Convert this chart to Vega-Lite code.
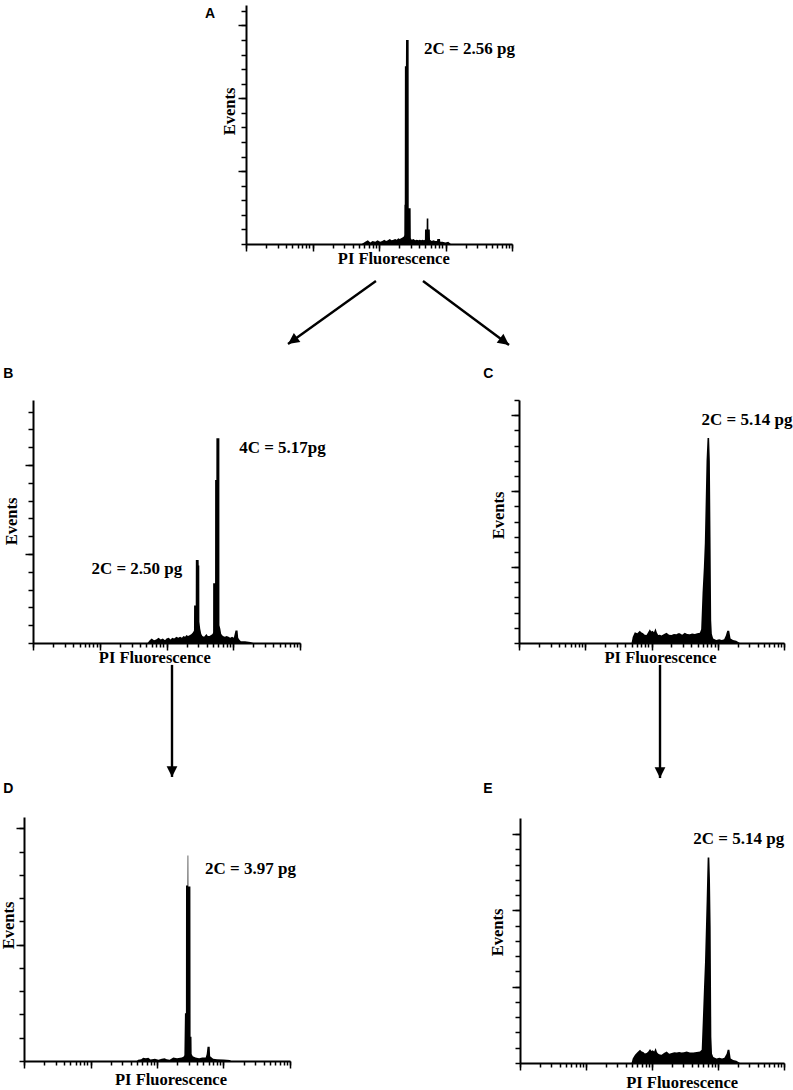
{
  "$schema": "https://vega.github.io/schema/vega-lite/v6.json",
  "width": 793,
  "height": 1090,
  "autosize": {"type": "none"},
  "padding": 0,
  "background": "white",
  "config": {
    "view": {"stroke": null},
    "axis": {"labels": false, "grid": false, "domainColor": "black", "domainWidth": 2, "tickColor": "black", "tickWidth": 1.5, "titleFont": "Liberation Serif", "titleFontSize": 16.5, "titleFontWeight": "bold", "titleColor": "black", "titleBaseline": "alphabetic"},
    "text": {"font": "Liberation Serif", "fontSize": 17, "fontWeight": "bold", "color": "black", "align": "left", "baseline": "alphabetic"}
  },
  "datasets": {
    "hA": [{"pi":55,"events":0},{"pi":62,"events":1.5},{"pi":68,"events":2.5},{"pi":74,"events":1},{"pi":80,"events":2},{"pi":88,"events":1.5},{"pi":95,"events":2.5},{"pi":104,"events":1.5},{"pi":112,"events":2},{"pi":120,"events":3},{"pi":128,"events":2},{"pi":136,"events":2.5},{"pi":145,"events":3.5},{"pi":155,"events":2.5},{"pi":165,"events":3},{"pi":175,"events":3.5},{"pi":185,"events":3},{"pi":195,"events":4},{"pi":205,"events":3.5},{"pi":215,"events":4},{"pi":225,"events":4.5},{"pi":235,"events":5},{"pi":240,"events":6},{"pi":241,"events":27},{"pi":244,"events":27},{"pi":245,"events":122},{"pi":254,"events":122},{"pi":255,"events":140},{"pi":279,"events":140},{"pi":280,"events":24.5},{"pi":299,"events":24.5},{"pi":301,"events":4},{"pi":310,"events":3},{"pi":330,"events":3.5},{"pi":350,"events":2.5},{"pi":370,"events":3},{"pi":390,"events":2.5},{"pi":410,"events":3},{"pi":430,"events":2.5},{"pi":450,"events":3},{"pi":475,"events":2.5},{"pi":490,"events":3},{"pi":492,"events":10},{"pi":520,"events":10},{"pi":522,"events":17.5},{"pi":552,"events":17.5},{"pi":553,"events":10},{"pi":580,"events":10},{"pi":585,"events":3},{"pi":620,"events":2},{"pi":660,"events":2.5},{"pi":700,"events":2},{"pi":745,"events":2},{"pi":753,"events":3.5},{"pi":826,"events":3.5},{"pi":835,"events":1.5},{"pi":900,"events":1.5},{"pi":1000,"events":1},{"pi":1100,"events":1.5},{"pi":1170,"events":0.5},{"pi":1200,"events":0}],
    "hB": [{"pi":52,"events":0},{"pi":56,"events":1.5},{"pi":60,"events":2.5},{"pi":65,"events":1.5},{"pi":70,"events":2},{"pi":76,"events":3},{"pi":82,"events":2},{"pi":88,"events":2.5},{"pi":95,"events":1.5},{"pi":100,"events":2.5},{"pi":108,"events":3},{"pi":115,"events":2},{"pi":122,"events":3},{"pi":130,"events":2.5},{"pi":141,"events":3.5},{"pi":150,"events":3},{"pi":160,"events":3.5},{"pi":170,"events":3},{"pi":180,"events":4},{"pi":190,"events":3.5},{"pi":199,"events":4.5},{"pi":210,"events":4},{"pi":225,"events":4.5},{"pi":237,"events":5},{"pi":250,"events":6},{"pi":258,"events":7},{"pi":259,"events":21},{"pi":274,"events":21},{"pi":275,"events":46.6},{"pi":303,"events":46.6},{"pi":304,"events":43.5},{"pi":310,"events":43.5},{"pi":311,"events":12},{"pi":320,"events":8},{"pi":332,"events":5},{"pi":345,"events":4},{"pi":365,"events":3.5},{"pi":385,"events":4.5},{"pi":398,"events":5},{"pi":415,"events":4},{"pi":440,"events":4},{"pi":465,"events":4.5},{"pi":490,"events":5},{"pi":499,"events":6},{"pi":500,"events":33.5},{"pi":534,"events":33.5},{"pi":535,"events":91.6},{"pi":558,"events":91.6},{"pi":559,"events":115},{"pi":620,"events":115},{"pi":621,"events":10},{"pi":640,"events":8},{"pi":660,"events":5},{"pi":700,"events":4},{"pi":750,"events":3.5},{"pi":794,"events":4},{"pi":850,"events":3.5},{"pi":900,"events":3},{"pi":960,"events":3.5},{"pi":1020,"events":3},{"pi":1057,"events":5.5},{"pi":1080,"events":7},{"pi":1160,"events":7},{"pi":1186,"events":3},{"pi":1230,"events":2},{"pi":1300,"events":1},{"pi":1500,"events":1},{"pi":1800,"events":0.5},{"pi":2000,"events":0}],
    "hC": [{"pi":50,"events":0},{"pi":52,"events":4},{"pi":56,"events":7},{"pi":61,"events":6.5},{"pi":66.6,"events":8},{"pi":70,"events":7},{"pi":74.7,"events":6.4},{"pi":79,"events":5.5},{"pi":84,"events":5.3},{"pi":89,"events":7},{"pi":94.3,"events":9},{"pi":99,"events":7.5},{"pi":103.5,"events":8},{"pi":109,"events":7},{"pi":115,"events":9.7},{"pi":120,"events":7},{"pi":126,"events":5.3},{"pi":134,"events":5.5},{"pi":141.6,"events":5},{"pi":155,"events":6},{"pi":168.5,"events":6.8},{"pi":184,"events":5.5},{"pi":200,"events":5.3},{"pi":218,"events":6},{"pi":239,"events":5.8},{"pi":252,"events":6.5},{"pi":267,"events":6.4},{"pi":290,"events":5.5},{"pi":318,"events":6.8},{"pi":345,"events":6},{"pi":379,"events":5.8},{"pi":410,"events":6.3},{"pi":451,"events":6},{"pi":490,"events":6.5},{"pi":537,"events":6.8},{"pi":562,"events":9},{"pi":589,"events":33},{"pi":617,"events":50},{"pi":638,"events":66},{"pi":677,"events":120},{"pi":701,"events":135},{"pi":741,"events":135},{"pi":760,"events":120},{"pi":778,"events":70},{"pi":796,"events":15},{"pi":815,"events":6},{"pi":853,"events":3},{"pi":950,"events":2},{"pi":1050,"events":2.5},{"pi":1150,"events":2},{"pi":1250,"events":2.5},{"pi":1325,"events":5},{"pi":1390,"events":8.1},{"pi":1490,"events":8.1},{"pi":1560,"events":3},{"pi":1700,"events":2},{"pi":1900,"events":1.5},{"pi":2157,"events":0}],
    "hD": [{"pi":50,"events":0},{"pi":52,"events":0.5},{"pi":58,"events":0.7},{"pi":62,"events":1.4},{"pi":68,"events":1.2},{"pi":74,"events":1.4},{"pi":80,"events":0.6},{"pi":93,"events":1},{"pi":105,"events":0.5},{"pi":118,"events":1},{"pi":130,"events":1.2},{"pi":140,"events":0.8},{"pi":155,"events":0.5},{"pi":176,"events":1.5},{"pi":200,"events":1.2},{"pi":235,"events":1.5},{"pi":250,"events":1.8},{"pi":258,"events":2.5},{"pi":263,"events":20.5},{"pi":272,"events":20.5},{"pi":273,"events":75.5},{"pi":288,"events":75.5},{"pi":289,"events":88.4},{"pi":295,"events":88.4},{"pi":296,"events":75},{"pi":318,"events":75},{"pi":320,"events":10.4},{"pi":330,"events":10.4},{"pi":332,"events":3},{"pi":345,"events":2},{"pi":380,"events":1.5},{"pi":430,"events":1.2},{"pi":480,"events":1.5},{"pi":540,"events":1.5},{"pi":559,"events":3},{"pi":575,"events":6.1},{"pi":620,"events":6.1},{"pi":630,"events":2},{"pi":700,"events":1},{"pi":800,"events":0.8},{"pi":1000,"events":0.6},{"pi":1250,"events":0.4},{"pi":1300,"events":0}],
    "hE": [{"pi":49,"events":0},{"pi":51,"events":3},{"pi":55.3,"events":5.4},{"pi":60,"events":7},{"pi":65.8,"events":8.7},{"pi":70,"events":7.5},{"pi":73.9,"events":7.2},{"pi":78,"events":6.2},{"pi":83,"events":6.5},{"pi":88,"events":7.5},{"pi":93.3,"events":9.2},{"pi":98,"events":7.8},{"pi":102,"events":8.3},{"pi":108,"events":7.5},{"pi":113.7,"events":9.8},{"pi":119,"events":7},{"pi":124.7,"events":6},{"pi":132,"events":5.5},{"pi":140,"events":5.4},{"pi":152,"events":6.5},{"pi":167,"events":7.5},{"pi":182,"events":6},{"pi":199,"events":6.5},{"pi":218,"events":7},{"pi":237,"events":6.8},{"pi":258,"events":7.2},{"pi":281,"events":6.8},{"pi":305,"events":7},{"pi":335,"events":7.5},{"pi":375,"events":6.8},{"pi":423,"events":6.8},{"pi":475,"events":7.2},{"pi":533,"events":7.5},{"pi":566,"events":8.7},{"pi":586,"events":26},{"pi":614,"events":50},{"pi":635,"events":66},{"pi":673,"events":107},{"pi":697,"events":134.6},{"pi":739,"events":134.6},{"pi":756,"events":120},{"pi":774,"events":89},{"pi":793,"events":17},{"pi":812,"events":6},{"pi":849,"events":4},{"pi":950,"events":3},{"pi":1050,"events":3.5},{"pi":1150,"events":3},{"pi":1250,"events":3.5},{"pi":1352,"events":6},{"pi":1400,"events":8.7},{"pi":1490,"events":8.7},{"pi":1556,"events":3},{"pi":1700,"events":2},{"pi":1900,"events":1.5},{"pi":2154,"events":0}],
    "lA": [{"pi":475,"events":130.6,"label":"2C = 2.56 pg"}],
    "lB": [{"pi":1225,"events":106.7,"label":"4C = 5.17pg"},{"pi":7.5,"events":38.8,"label":"2C = 2.50 pg"}],
    "lC": [{"pi":569,"events":143.8,"label":"2C = 5.14 pg"}],
    "lD": [{"pi":527,"events":80.3,"label":"2C = 3.97 pg"}],
    "lE": [{"pi":423,"events":143.3,"label":"2C = 5.14 pg"}],
    "arrows": [
      {"dir":"left","x1":47.41,"y1":25.78,"x2":36.32,"y2":31.56},
      {"dir":"right","x1":53.34,"y1":25.78,"x2":64.19,"y2":31.65},
      {"dir":"down","x1":21.69,"y1":61.0,"x2":21.69,"y2":71.28},
      {"dir":"down","x1":83.23,"y1":61.0,"x2":83.23,"y2":71.38}
    ],
    "letters": [
      {"letter":"A","x":25.85,"y":1.65},
      {"letter":"B","x":0.42,"y":34.68},
      {"letter":"C","x":60.95,"y":34.68},
      {"letter":"D","x":0.42,"y":72.78},
      {"letter":"E","x":60.95,"y":72.78}
    ]
  },
  "resolve": {"scale": {"x": "independent", "y": "independent"}, "axis": {"x": "independent", "y": "independent"}},
  "layer": [
    {"data": {"name": "hA"}, "mark": {"type": "area", "color": "black"},
     "encoding": {
       "x": {"field": "pi", "type": "quantitative", "scale": {"type": "log", "domain": [1, 10000], "range": [246, 512], "nice": false},
             "axis": {"orient": "bottom", "offset": -846, "title": "PI Fluorescence", "values": [1,2,3,4,5,6,7,8,9,10,20,30,40,50,60,70,80,90,100,200,300,400,500,600,700,800,900,1000,2000,3000,4000,5000,6000,7000,8000,9000,10000], "tickSize": 4, "titleX": 393.3, "titleY": 19.5}},
       "y": {"field": "events", "type": "quantitative", "scale": {"domain": [0, 164], "range": [244, 5], "nice": false},
             "axis": {"orient": "left", "offset": -246, "title": "Events", "values": [0,10,20,30,40,50,60,70,80,90,100,110,120,130,140,150,160], "tickSize": 5, "titleX": -12, "titleY": 111}}
     }},
    {"data": {"name": "lA"}, "mark": {"type": "text"},
     "encoding": {
       "x": {"field": "pi", "type": "quantitative", "scale": {"type": "log", "domain": [1, 10000], "range": [246, 512], "nice": false},
             "axis": {"orient": "bottom", "offset": -846, "title": null, "domain": false, "values": [1,10,100,1000,10000], "tickSize": 7}},
       "y": {"field": "events", "type": "quantitative", "scale": {"domain": [0, 164], "range": [244, 5], "nice": false},
             "axis": {"orient": "left", "offset": -246, "title": null, "domain": false, "values": [50,100,150], "tickSize": 8}},
       "text": {"field": "label"}
     }},
    {"data": {"name": "hB"}, "mark": {"type": "area", "color": "black"},
     "encoding": {
       "x": {"field": "pi", "type": "quantitative", "scale": {"type": "log", "domain": [1, 10000], "range": [33, 300], "nice": false},
             "axis": {"orient": "bottom", "offset": -447, "title": "PI Fluorescence", "values": [1,2,3,4,5,6,7,8,9,10,20,30,40,50,60,70,80,90,100,200,300,400,500,600,700,800,900,1000,2000,3000,4000,5000,6000,7000,8000,9000,10000], "tickSize": 4, "titleX": 154.3, "titleY": 19}},
       "y": {"field": "events", "type": "quantitative", "scale": {"domain": [0, 136.5], "range": [643, 400], "nice": false},
             "axis": {"orient": "left", "offset": -33, "title": "Events", "values": [0,10,20,30,40,50,60,70,80,90,100,110,120,130], "tickSize": 5, "titleX": -16.6, "titleY": 521}}
     }},
    {"data": {"name": "lB"}, "mark": {"type": "text"},
     "encoding": {
       "x": {"field": "pi", "type": "quantitative", "scale": {"type": "log", "domain": [1, 10000], "range": [33, 300], "nice": false},
             "axis": {"orient": "bottom", "offset": -447, "title": null, "domain": false, "values": [1,10,100,1000,10000], "tickSize": 7}},
       "y": {"field": "events", "type": "quantitative", "scale": {"domain": [0, 136.5], "range": [643, 400], "nice": false},
             "axis": {"orient": "left", "offset": -33, "title": null, "domain": false, "values": [50,100], "tickSize": 8}},
       "text": {"field": "label"}
     }},
    {"data": {"name": "hC"}, "mark": {"type": "area", "color": "black"},
     "encoding": {
       "x": {"field": "pi", "type": "quantitative", "scale": {"type": "log", "domain": [1, 10000], "range": [519, 784], "nice": false},
             "axis": {"orient": "bottom", "offset": -447, "title": "PI Fluorescence", "values": [1,2,3,4,5,6,7,8,9,10,20,30,40,50,60,70,80,90,100,200,300,400,500,600,700,800,900,1000,2000,3000,4000,5000,6000,7000,8000,9000,10000], "tickSize": 4, "titleX": 660, "titleY": 19}},
       "y": {"field": "events", "type": "quantitative", "scale": {"domain": [0, 160], "range": [643, 400], "nice": false},
             "axis": {"orient": "left", "offset": -519, "title": "Events", "values": [0,10,20,30,40,50,60,70,80,90,100,110,120,130,140,150,160], "tickSize": 5, "titleX": -15.3, "titleY": 515}}
     }},
    {"data": {"name": "lC"}, "mark": {"type": "text"},
     "encoding": {
       "x": {"field": "pi", "type": "quantitative", "scale": {"type": "log", "domain": [1, 10000], "range": [519, 784], "nice": false},
             "axis": {"orient": "bottom", "offset": -447, "title": null, "domain": false, "values": [1,10,100,1000,10000], "tickSize": 7}},
       "y": {"field": "events", "type": "quantitative", "scale": {"domain": [0, 160], "range": [643, 400], "nice": false},
             "axis": {"orient": "left", "offset": -519, "title": null, "domain": false, "values": [50,100,150], "tickSize": 8}},
       "text": {"field": "label"}
     }},
    {"data": {"name": "hD"}, "mark": {"type": "area", "color": "black"},
     "encoding": {
       "x": {"field": "pi", "type": "quantitative", "scale": {"type": "log", "domain": [1, 10000], "range": [24, 290], "nice": false},
             "axis": {"orient": "bottom", "offset": -29, "title": "PI Fluorescence", "values": [1,2,3,4,5,6,7,8,9,10,20,30,40,50,60,70,80,90,100,200,300,400,500,600,700,800,900,1000,2000,3000,4000,5000,6000,7000,8000,9000,10000], "tickSize": 4, "titleX": 170.5, "titleY": 23}},
       "y": {"field": "events", "type": "quantitative", "scale": {"domain": [0, 104.9], "range": [1061, 817], "nice": false},
             "axis": {"orient": "left", "offset": -24, "title": "Events", "values": [0,10,20,30,40,50,60,70,80,90,100], "tickSize": 5, "titleX": -10.7, "titleY": 925}}
     }},
    {"data": {"name": "lD"}, "mark": {"type": "text"},
     "encoding": {
       "x": {"field": "pi", "type": "quantitative", "scale": {"type": "log", "domain": [1, 10000], "range": [24, 290], "nice": false},
             "axis": {"orient": "bottom", "offset": -29, "title": null, "domain": false, "values": [1,10,100,1000,10000], "tickSize": 7}},
       "y": {"field": "events", "type": "quantitative", "scale": {"domain": [0, 104.9], "range": [1061, 817], "nice": false},
             "axis": {"orient": "left", "offset": -24, "title": null, "domain": false, "values": [50,100], "tickSize": 8}},
       "text": {"field": "label"}
     }},
    {"data": {"name": "hE"}, "mark": {"type": "area", "color": "black"},
     "encoding": {
       "x": {"field": "pi", "type": "quantitative", "scale": {"type": "log", "domain": [1, 10000], "range": [520, 784], "nice": false},
             "axis": {"orient": "bottom", "offset": -27, "title": "PI Fluorescence", "values": [1,2,3,4,5,6,7,8,9,10,20,30,40,50,60,70,80,90,100,200,300,400,500,600,700,800,900,1000,2000,3000,4000,5000,6000,7000,8000,9000,10000], "tickSize": 4, "titleX": 681.7, "titleY": 24}},
       "y": {"field": "events", "type": "quantitative", "scale": {"domain": [0, 160.5], "range": [1063, 818], "nice": false},
             "axis": {"orient": "left", "offset": -520, "title": "Events", "values": [0,10,20,30,40,50,60,70,80,90,100,110,120,130,140,150], "tickSize": 5, "titleX": -17.3, "titleY": 932}}
     }},
    {"data": {"name": "lE"}, "mark": {"type": "text"},
     "encoding": {
       "x": {"field": "pi", "type": "quantitative", "scale": {"type": "log", "domain": [1, 10000], "range": [520, 784], "nice": false},
             "axis": {"orient": "bottom", "offset": -27, "title": null, "domain": false, "values": [1,10,100,1000,10000], "tickSize": 7}},
       "y": {"field": "events", "type": "quantitative", "scale": {"domain": [0, 160.5], "range": [1063, 818], "nice": false},
             "axis": {"orient": "left", "offset": -520, "title": null, "domain": false, "values": [50,100,150], "tickSize": 8}},
       "text": {"field": "label"}
     }},
    {
      "layer": [
        {"data": {"name": "arrows"}, "mark": {"type": "rule", "color": "black", "strokeWidth": 2.4},
         "encoding": {
           "x": {"field": "x1", "type": "quantitative", "scale": {"domain": [0, 100], "range": [0, 793], "nice": false, "zero": false}, "axis": null},
           "y": {"field": "y1", "type": "quantitative", "scale": {"domain": [0, 100], "range": [0, 1090], "nice": false, "zero": false}, "axis": null},
           "x2": {"field": "x2"}, "y2": {"field": "y2"}
         }},
        {"data": {"name": "arrows"}, "transform": [{"filter": "datum.dir === 'left'"}],
         "mark": {"type": "point", "shape": "M0,0L-0.5,-1L0.5,-1Z", "filled": true, "color": "black", "opacity": 1, "size": 500, "angle": 54.4, "strokeWidth": 0},
         "encoding": {
           "x": {"field": "x2", "type": "quantitative", "scale": {"domain": [0, 100], "range": [0, 793], "nice": false, "zero": false}, "axis": null},
           "y": {"field": "y2", "type": "quantitative", "scale": {"domain": [0, 100], "range": [0, 1090], "nice": false, "zero": false}, "axis": null}
         }},
        {"data": {"name": "arrows"}, "transform": [{"filter": "datum.dir === 'right'"}],
         "mark": {"type": "point", "shape": "M0,0L-0.5,-1L0.5,-1Z", "filled": true, "color": "black", "opacity": 1, "size": 500, "angle": 306.7, "strokeWidth": 0},
         "encoding": {
           "x": {"field": "x2", "type": "quantitative", "scale": {"domain": [0, 100], "range": [0, 793], "nice": false, "zero": false}, "axis": null},
           "y": {"field": "y2", "type": "quantitative", "scale": {"domain": [0, 100], "range": [0, 1090], "nice": false, "zero": false}, "axis": null}
         }},
        {"data": {"name": "arrows"}, "transform": [{"filter": "datum.dir === 'down'"}],
         "mark": {"type": "point", "shape": "M0,0L-0.5,-1L0.5,-1Z", "filled": true, "color": "black", "opacity": 1, "size": 460, "angle": 0, "strokeWidth": 0},
         "encoding": {
           "x": {"field": "x2", "type": "quantitative", "scale": {"domain": [0, 100], "range": [0, 793], "nice": false, "zero": false}, "axis": null},
           "y": {"field": "y2", "type": "quantitative", "scale": {"domain": [0, 100], "range": [0, 1090], "nice": false, "zero": false}, "axis": null}
         }},
        {"data": {"name": "letters"},
         "mark": {"type": "text", "font": "Liberation Sans", "fontSize": 14, "fontWeight": "bold", "align": "left", "baseline": "alphabetic"},
         "encoding": {
           "x": {"field": "x", "type": "quantitative", "scale": {"domain": [0, 100], "range": [0, 793], "nice": false, "zero": false}, "axis": null},
           "y": {"field": "y", "type": "quantitative", "scale": {"domain": [0, 100], "range": [0, 1090], "nice": false, "zero": false}, "axis": null},
           "text": {"field": "letter"}
         }}
      ]
    }
  ]
}
